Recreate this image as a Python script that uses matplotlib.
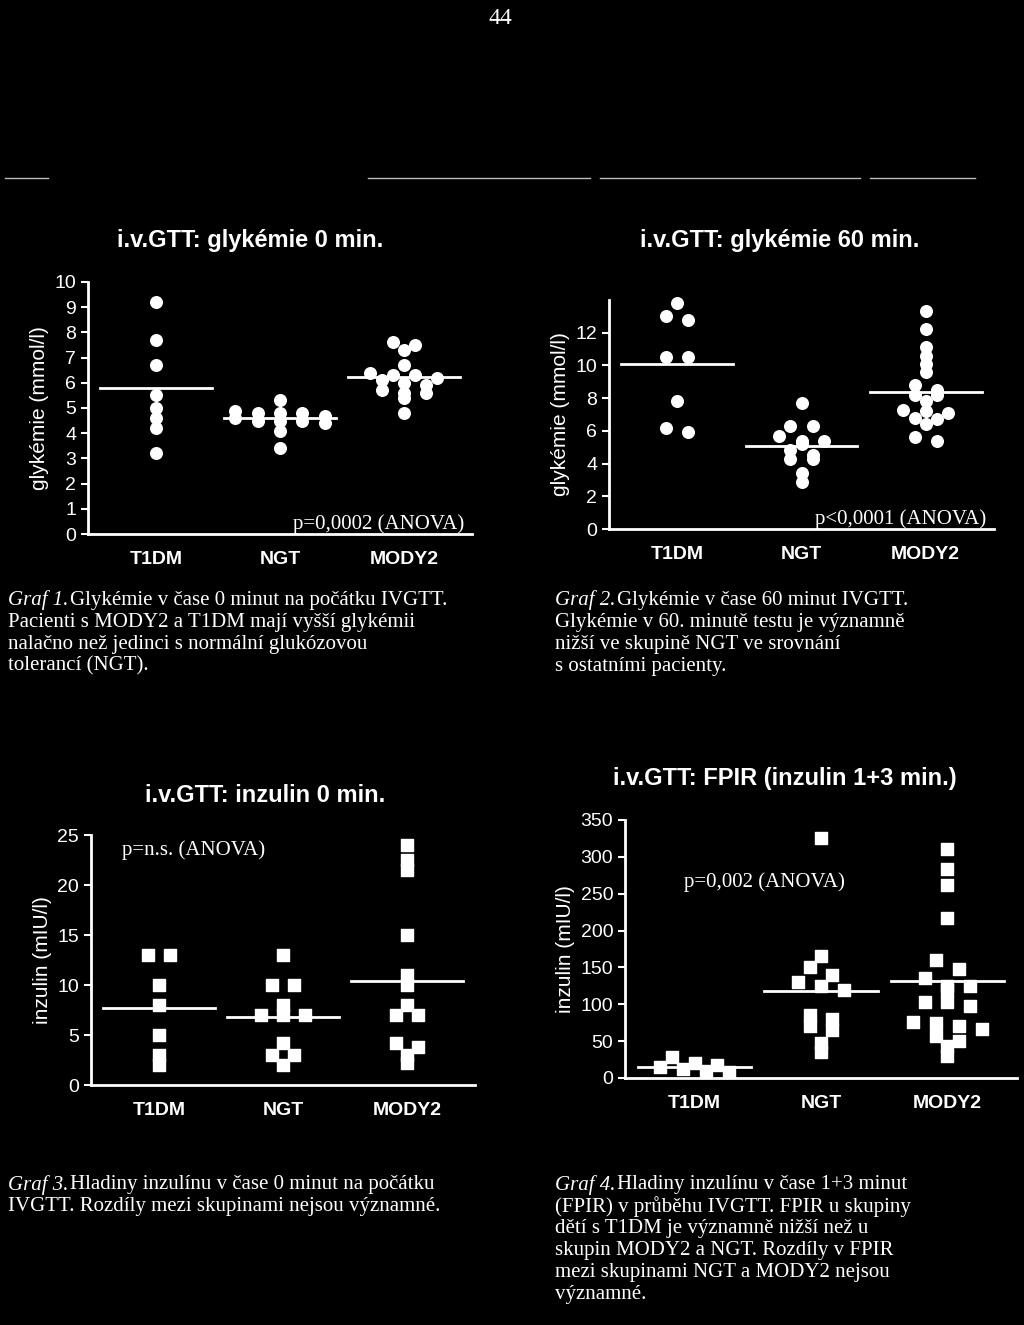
import matplotlib.pyplot as plt
from matplotlib.lines import Line2D
import numpy as np

plt.rcParams["font.family"] = "Liberation Sans"

W, H = 1024, 1325
groups = ["T1DM", "NGT", "MODY2"]

# graf 1: glykemie 0 min
g0_t1dm = [9.2, 7.7, 6.7, 5.5, 5.0, 4.6, 4.2, 3.2]
g0_ngt = [5.3, 4.9, 4.8, 4.8, 4.8, 4.7, 4.6, 4.5, 4.5, 4.5, 4.4, 4.1, 3.4]
g0_mody = [7.6, 7.5, 7.3, 6.7, 6.4, 6.3, 6.3, 6.2, 6.1, 6.0, 5.9, 5.7, 5.6, 5.6, 5.4, 4.8]
g0_means = [5.8, 4.6, 6.25]

# graf 2: glykemie 60 min
g60_t1dm = [13.8, 13.0, 12.8, 10.5, 10.5, 7.8, 6.2, 5.9]
g60_ngt = [7.7, 6.3, 6.3, 5.7, 5.4, 5.4, 5.2, 4.8, 4.5, 4.3, 4.3, 3.4, 2.9]
g60_mody = [13.3, 12.2, 11.1, 10.6, 10.1, 9.6, 8.8, 8.5, 8.2, 8.2, 7.8, 7.3,
            7.2, 7.1, 6.8, 6.7, 6.4, 5.6, 5.4]
g60_means = [10.1, 5.1, 8.4]

# graf 3: inzulin 0 min
i0_t1dm = [13, 13, 10, 8, 5, 3, 2]
i0_ngt = [13, 10, 10, 8, 7, 7, 7, 4.2, 3, 3, 2]
i0_mody = [24, 22.5, 21.5, 15, 11, 10, 8, 7, 7, 4.2, 3.8, 3, 2.2]
i0_means = [7.7, 6.8, 10.4]

# graf 4: FPIR
f_t1dm = [28, 20, 18, 15, 12, 10, 8]
f_ngt = [325, 165, 150, 140, 130, 125, 120, 85, 80, 70, 65, 48, 35]
f_mody = [310, 283, 262, 217, 160, 148, 135, 125, 125, 120, 103, 103, 98,
          76, 75, 70, 66, 57, 50, 43, 30]
f_means = [15, 118, 132]


def swarm(vals, tol, step=0.18):
    # deterministic spread of close values, alternating sides
    vals = sorted(vals, reverse=True)
    xs = []
    i = 0
    while i < len(vals):
        j = i
        while j + 1 < len(vals) and vals[i] - vals[j + 1] <= tol:
            j += 1
        n = j - i + 1
        if n == 1:
            xs.append(0.0)
        else:
            for k in range(n):
                xs.append((k - (n - 1) / 2) * step)
        i = j + 1
    return vals, xs


def panel(box, data, means, ylim, yticks, ylabel, marker, tol, ptext, ploc, title, tx, ty):
    l, r, b, t = box
    ax = fig.add_axes([l / W, 1 - b / H, (r - l) / W, (b - t) / H])
    ax.set_facecolor("black")
    for i, d in enumerate(data):
        v, xo = swarm(d, tol)
        ax.scatter(np.array(xo) + i, v, s=70, marker=marker, color="white", zorder=3,
                   clip_on=False)
        ax.plot([i - 0.45, i + 0.45], [means[i]] * 2, color="white", lw=2)
    ax.set_xlim(-0.55, 2.55)
    ax.set_ylim(*ylim)
    ax.set_yticks(yticks)
    ax.set_xticks(range(3))
    ax.set_xticklabels(groups, fontsize=17, color="white", fontweight="bold")
    ax.tick_params(colors="white", labelsize=14, length=5, width=1.5)
    ax.tick_params(axis="x", length=0, pad=12)
    for s in ["top", "right"]:
        ax.spines[s].set_visible(False)
    for s in ["left", "bottom"]:
        ax.spines[s].set_color("white")
        ax.spines[s].set_linewidth(2)
    ax.set_ylabel(ylabel, color="white", fontsize=15)
    ax.text(ploc[0], ploc[1], ptext, transform=ax.transAxes, color="white",
            fontsize=15, family="Liberation Serif", ha=ploc[2], va="bottom")
    fig.text(tx / W, 1 - ty / H, title, color="white", fontsize=17,
             fontweight="bold", ha="center", va="center")
    return ax


fig = plt.figure(figsize=(W / 100, H / 100), dpi=100, facecolor="black")

panel((88, 472, 534, 282), [g0_t1dm, g0_ngt, g0_mody], g0_means, (0, 10),
      range(0, 11), "glykémie (mmol/l)", "o", 0.25, "p=0,0002 (ANOVA)",
      (0.98, 0.0, "right"), "i.v.GTT: glykémie 0 min.", 250, 240)
panel((609, 994, 529, 300), [g60_t1dm, g60_ngt, g60_mody], g60_means, (0, 14),
      range(0, 13, 2), "glykémie (mmol/l)", "o", 0.35, "p<0,0001 (ANOVA)",
      (0.98, 0.0, "right"), "i.v.GTT: glykémie 60 min.", 780, 240)
panel((91, 475, 1085, 835), [i0_t1dm, i0_ngt, i0_mody], i0_means, (0, 25),
      range(0, 26, 5), "inzulin (mIU/l)", "s", 0.6, "p=n.s. (ANOVA)",
      (0.08, 0.9, "left"), "i.v.GTT: inzulin 0 min.", 265, 795)
panel((625, 1017, 1078, 820), [f_t1dm, f_ngt, f_mody], f_means, (0, 350),
      range(0, 351, 50), "inzulin (mIU/l)", "s", 12, "p=0,002 (ANOVA)",
      (0.15, 0.72, "left"), "i.v.GTT: FPIR (inzulin 1+3 min.)", 785, 778)

fig.text(500 / W, 1 - 18 / H, "44", color="white", fontsize=17,
         family="Liberation Serif", ha="center", va="center")
for x0, x1 in [(5, 48), (368, 590), (600, 860), (870, 975)]:
    fig.add_artist(Line2D([x0 / W, x1 / W], [1 - 178 / H] * 2, color="#bbbbbb", lw=1))


def caption(x, y, head, lines):
    fig.text(x / W, 1 - y / H, head, color="white", fontsize=15, style="italic",
             family="Liberation Serif", va="center")
    fig.text((x + 62) / W, 1 - y / H, lines[0], color="white", fontsize=15,
             family="Liberation Serif", va="center")
    for k, ln in enumerate(lines[1:]):
        fig.text(x / W, 1 - (y + 22 * (k + 1)) / H, ln, color="white", fontsize=15,
                 family="Liberation Serif", va="center")


caption(8, 600, "Graf 1.", ["Glykémie v čase 0 minut na počátku IVGTT.",
                            "Pacienti s MODY2 a T1DM mají vyšší glykémii",
                            "nalačno než jedinci s normální glukózovou",
                            "tolerancí (NGT)."])
caption(555, 600, "Graf 2.", ["Glykémie v čase 60 minut IVGTT.",
                              "Glykémie v 60. minutě testu je významně",
                              "nižší ve skupině NGT ve srovnání",
                              "s ostatními pacienty."])
caption(8, 1185, "Graf 3.", ["Hladiny inzulínu v čase 0 minut na počátku",
                             "IVGTT. Rozdíly mezi skupinami nejsou významné."])
caption(555, 1185, "Graf 4.", ["Hladiny inzulínu v čase 1+3 minut",
                               "(FPIR) v průběhu IVGTT. FPIR u skupiny",
                               "dětí s T1DM je významně nižší než u",
                               "skupin MODY2 a NGT. Rozdíly v FPIR",
                               "mezi skupinami NGT a MODY2 nejsou",
                               "významné."])

fig.savefig("out.png", dpi=100, facecolor="black")
